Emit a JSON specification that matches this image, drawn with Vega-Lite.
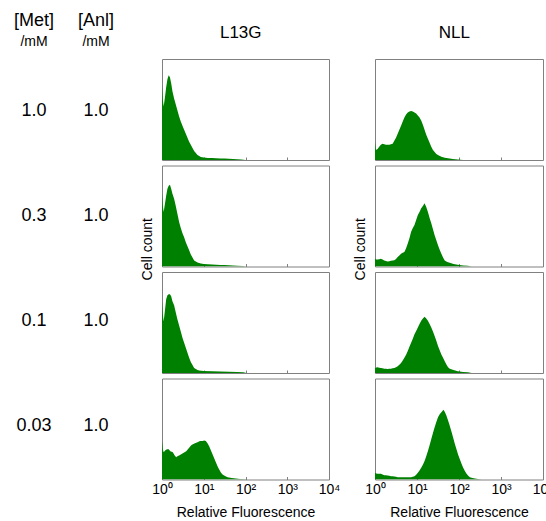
{
"$schema":"https://vega.github.io/schema/vega-lite/v6.json",
"padding":{"left":6,"top":12,"right":0,"bottom":0},
"config":{"font":"Liberation Sans","view":{"stroke":"#808080","strokeWidth":1},"title":{"fontWeight":"normal","color":"#000000","subtitleColor":"#000000","subtitleFont":"Liberation Sans"},"axis":{"labelColor":"#000000","titleColor":"#000000","titleFontWeight":"normal","grid":false}},
"datasets":{
"conds":[{"row":1,"met":"1.0","anl":"1.0"},{"row":2,"met":"0.3","anl":"1.0"},{"row":3,"met":"0.1","anl":"1.0"},{"row":4,"met":"0.03","anl":"1.0"}],
"flow":[
{"strain":"L13G","met":"1.0","logF":0,"count":74},{"strain":"L13G","met":"1.0","logF":0.02,"count":60},{"strain":"L13G","met":"1.0","logF":0.04,"count":53},{"strain":"L13G","met":"1.0","logF":0.07,"count":62},{"strain":"L13G","met":"1.0","logF":0.1,"count":72},{"strain":"L13G","met":"1.0","logF":0.13,"count":80},{"strain":"L13G","met":"1.0","logF":0.16,"count":84},{"strain":"L13G","met":"1.0","logF":0.19,"count":82},{"strain":"L13G","met":"1.0","logF":0.22,"count":76},{"strain":"L13G","met":"1.0","logF":0.25,"count":68},{"strain":"L13G","met":"1.0","logF":0.29,"count":61},{"strain":"L13G","met":"1.0","logF":0.33,"count":55},{"strain":"L13G","met":"1.0","logF":0.37,"count":49},{"strain":"L13G","met":"1.0","logF":0.41,"count":43},{"strain":"L13G","met":"1.0","logF":0.45,"count":38},{"strain":"L13G","met":"1.0","logF":0.49,"count":34},{"strain":"L13G","met":"1.0","logF":0.53,"count":30},{"strain":"L13G","met":"1.0","logF":0.57,"count":26},{"strain":"L13G","met":"1.0","logF":0.61,"count":22},{"strain":"L13G","met":"1.0","logF":0.65,"count":18},{"strain":"L13G","met":"1.0","logF":0.69,"count":15},{"strain":"L13G","met":"1.0","logF":0.73,"count":12},{"strain":"L13G","met":"1.0","logF":0.77,"count":9},{"strain":"L13G","met":"1.0","logF":0.81,"count":7},{"strain":"L13G","met":"1.0","logF":0.85,"count":5},{"strain":"L13G","met":"1.0","logF":0.89,"count":4},{"strain":"L13G","met":"1.0","logF":0.93,"count":3},{"strain":"L13G","met":"1.0","logF":1.0,"count":2.5},{"strain":"L13G","met":"1.0","logF":1.1,"count":2},{"strain":"L13G","met":"1.0","logF":1.2,"count":2},{"strain":"L13G","met":"1.0","logF":1.3,"count":1.8},{"strain":"L13G","met":"1.0","logF":1.4,"count":1.5},{"strain":"L13G","met":"1.0","logF":1.5,"count":1.5},{"strain":"L13G","met":"1.0","logF":1.6,"count":1.2},{"strain":"L13G","met":"1.0","logF":1.7,"count":1},{"strain":"L13G","met":"1.0","logF":1.8,"count":0.8},{"strain":"L13G","met":"1.0","logF":1.9,"count":0.5},{"strain":"L13G","met":"1.0","logF":2.0,"count":0},
{"strain":"L13G","met":"0.3","logF":0,"count":73},{"strain":"L13G","met":"0.3","logF":0.02,"count":60},{"strain":"L13G","met":"0.3","logF":0.04,"count":54},{"strain":"L13G","met":"0.3","logF":0.07,"count":62},{"strain":"L13G","met":"0.3","logF":0.1,"count":70},{"strain":"L13G","met":"0.3","logF":0.13,"count":77},{"strain":"L13G","met":"0.3","logF":0.16,"count":80},{"strain":"L13G","met":"0.3","logF":0.19,"count":81},{"strain":"L13G","met":"0.3","logF":0.22,"count":77},{"strain":"L13G","met":"0.3","logF":0.25,"count":72},{"strain":"L13G","met":"0.3","logF":0.29,"count":67},{"strain":"L13G","met":"0.3","logF":0.33,"count":60},{"strain":"L13G","met":"0.3","logF":0.37,"count":52},{"strain":"L13G","met":"0.3","logF":0.41,"count":44},{"strain":"L13G","met":"0.3","logF":0.45,"count":38},{"strain":"L13G","met":"0.3","logF":0.49,"count":33},{"strain":"L13G","met":"0.3","logF":0.53,"count":29},{"strain":"L13G","met":"0.3","logF":0.57,"count":24},{"strain":"L13G","met":"0.3","logF":0.61,"count":20},{"strain":"L13G","met":"0.3","logF":0.65,"count":16},{"strain":"L13G","met":"0.3","logF":0.69,"count":12},{"strain":"L13G","met":"0.3","logF":0.73,"count":9},{"strain":"L13G","met":"0.3","logF":0.77,"count":6},{"strain":"L13G","met":"0.3","logF":0.81,"count":5},{"strain":"L13G","met":"0.3","logF":0.85,"count":4},{"strain":"L13G","met":"0.3","logF":0.93,"count":3},{"strain":"L13G","met":"0.3","logF":1.0,"count":2.5},{"strain":"L13G","met":"0.3","logF":1.1,"count":2.2},{"strain":"L13G","met":"0.3","logF":1.2,"count":2},{"strain":"L13G","met":"0.3","logF":1.3,"count":1.8},{"strain":"L13G","met":"0.3","logF":1.4,"count":1.5},{"strain":"L13G","met":"0.3","logF":1.5,"count":1.4},{"strain":"L13G","met":"0.3","logF":1.6,"count":1.2},{"strain":"L13G","met":"0.3","logF":1.7,"count":1},{"strain":"L13G","met":"0.3","logF":1.8,"count":0.8},{"strain":"L13G","met":"0.3","logF":1.93,"count":0.5},{"strain":"L13G","met":"0.3","logF":2.0,"count":0},
{"strain":"L13G","met":"0.1","logF":0,"count":71},{"strain":"L13G","met":"0.1","logF":0.02,"count":58},{"strain":"L13G","met":"0.1","logF":0.04,"count":51},{"strain":"L13G","met":"0.1","logF":0.07,"count":62},{"strain":"L13G","met":"0.1","logF":0.1,"count":73},{"strain":"L13G","met":"0.1","logF":0.13,"count":77},{"strain":"L13G","met":"0.1","logF":0.16,"count":78},{"strain":"L13G","met":"0.1","logF":0.19,"count":78},{"strain":"L13G","met":"0.1","logF":0.22,"count":76},{"strain":"L13G","met":"0.1","logF":0.25,"count":71},{"strain":"L13G","met":"0.1","logF":0.29,"count":67},{"strain":"L13G","met":"0.1","logF":0.33,"count":60},{"strain":"L13G","met":"0.1","logF":0.37,"count":53},{"strain":"L13G","met":"0.1","logF":0.41,"count":47},{"strain":"L13G","met":"0.1","logF":0.45,"count":41},{"strain":"L13G","met":"0.1","logF":0.49,"count":35},{"strain":"L13G","met":"0.1","logF":0.53,"count":30},{"strain":"L13G","met":"0.1","logF":0.57,"count":25},{"strain":"L13G","met":"0.1","logF":0.61,"count":20},{"strain":"L13G","met":"0.1","logF":0.65,"count":15},{"strain":"L13G","met":"0.1","logF":0.69,"count":11},{"strain":"L13G","met":"0.1","logF":0.73,"count":8},{"strain":"L13G","met":"0.1","logF":0.77,"count":5},{"strain":"L13G","met":"0.1","logF":0.81,"count":4},{"strain":"L13G","met":"0.1","logF":0.85,"count":3},{"strain":"L13G","met":"0.1","logF":0.89,"count":2.5},{"strain":"L13G","met":"0.1","logF":1.0,"count":2},{"strain":"L13G","met":"0.1","logF":1.2,"count":1.8},{"strain":"L13G","met":"0.1","logF":1.4,"count":1.5},{"strain":"L13G","met":"0.1","logF":1.6,"count":1.3},{"strain":"L13G","met":"0.1","logF":1.8,"count":1},{"strain":"L13G","met":"0.1","logF":1.95,"count":0.7},{"strain":"L13G","met":"0.1","logF":2.02,"count":0},
{"strain":"L13G","met":"0.03","logF":0,"count":38},{"strain":"L13G","met":"0.03","logF":0.02,"count":30},{"strain":"L13G","met":"0.03","logF":0.04,"count":27},{"strain":"L13G","met":"0.03","logF":0.08,"count":29},{"strain":"L13G","met":"0.03","logF":0.12,"count":30},{"strain":"L13G","met":"0.03","logF":0.16,"count":30},{"strain":"L13G","met":"0.03","logF":0.2,"count":28},{"strain":"L13G","met":"0.03","logF":0.26,"count":27},{"strain":"L13G","met":"0.03","logF":0.3,"count":24},{"strain":"L13G","met":"0.03","logF":0.34,"count":22},{"strain":"L13G","met":"0.03","logF":0.37,"count":23},{"strain":"L13G","met":"0.03","logF":0.42,"count":24},{"strain":"L13G","met":"0.03","logF":0.46,"count":25},{"strain":"L13G","met":"0.03","logF":0.5,"count":26},{"strain":"L13G","met":"0.03","logF":0.54,"count":27},{"strain":"L13G","met":"0.03","logF":0.58,"count":28},{"strain":"L13G","met":"0.03","logF":0.62,"count":30},{"strain":"L13G","met":"0.03","logF":0.66,"count":32},{"strain":"L13G","met":"0.03","logF":0.7,"count":34},{"strain":"L13G","met":"0.03","logF":0.74,"count":35},{"strain":"L13G","met":"0.03","logF":0.79,"count":36},{"strain":"L13G","met":"0.03","logF":0.85,"count":37},{"strain":"L13G","met":"0.03","logF":0.91,"count":38},{"strain":"L13G","met":"0.03","logF":0.97,"count":38},{"strain":"L13G","met":"0.03","logF":1.01,"count":38.5},{"strain":"L13G","met":"0.03","logF":1.05,"count":38},{"strain":"L13G","met":"0.03","logF":1.09,"count":36},{"strain":"L13G","met":"0.03","logF":1.13,"count":33},{"strain":"L13G","met":"0.03","logF":1.17,"count":29},{"strain":"L13G","met":"0.03","logF":1.21,"count":25},{"strain":"L13G","met":"0.03","logF":1.25,"count":21},{"strain":"L13G","met":"0.03","logF":1.29,"count":17},{"strain":"L13G","met":"0.03","logF":1.33,"count":13},{"strain":"L13G","met":"0.03","logF":1.37,"count":10},{"strain":"L13G","met":"0.03","logF":1.41,"count":7},{"strain":"L13G","met":"0.03","logF":1.45,"count":5},{"strain":"L13G","met":"0.03","logF":1.51,"count":3.5},{"strain":"L13G","met":"0.03","logF":1.57,"count":2.3},{"strain":"L13G","met":"0.03","logF":1.67,"count":1.5},{"strain":"L13G","met":"0.03","logF":1.77,"count":1},{"strain":"L13G","met":"0.03","logF":1.87,"count":0.6},{"strain":"L13G","met":"0.03","logF":1.97,"count":0.3},{"strain":"L13G","met":"0.03","logF":2.05,"count":0},
{"strain":"NLL","met":"1.0","logF":0,"count":18},{"strain":"NLL","met":"1.0","logF":0.02,"count":10},{"strain":"NLL","met":"1.0","logF":0.06,"count":11},{"strain":"NLL","met":"1.0","logF":0.1,"count":13},{"strain":"NLL","met":"1.0","logF":0.14,"count":15},{"strain":"NLL","met":"1.0","logF":0.18,"count":16},{"strain":"NLL","met":"1.0","logF":0.22,"count":15.5},{"strain":"NLL","met":"1.0","logF":0.26,"count":15},{"strain":"NLL","met":"1.0","logF":0.3,"count":15},{"strain":"NLL","met":"1.0","logF":0.34,"count":15},{"strain":"NLL","met":"1.0","logF":0.38,"count":15.5},{"strain":"NLL","met":"1.0","logF":0.42,"count":16},{"strain":"NLL","met":"1.0","logF":0.46,"count":19},{"strain":"NLL","met":"1.0","logF":0.5,"count":22},{"strain":"NLL","met":"1.0","logF":0.54,"count":26},{"strain":"NLL","met":"1.0","logF":0.58,"count":30},{"strain":"NLL","met":"1.0","logF":0.62,"count":34},{"strain":"NLL","met":"1.0","logF":0.66,"count":38},{"strain":"NLL","met":"1.0","logF":0.7,"count":42},{"strain":"NLL","met":"1.0","logF":0.74,"count":45},{"strain":"NLL","met":"1.0","logF":0.78,"count":47},{"strain":"NLL","met":"1.0","logF":0.82,"count":48},{"strain":"NLL","met":"1.0","logF":0.86,"count":48.5},{"strain":"NLL","met":"1.0","logF":0.9,"count":48},{"strain":"NLL","met":"1.0","logF":0.94,"count":47},{"strain":"NLL","met":"1.0","logF":0.98,"count":46},{"strain":"NLL","met":"1.0","logF":1.02,"count":44},{"strain":"NLL","met":"1.0","logF":1.06,"count":42},{"strain":"NLL","met":"1.0","logF":1.1,"count":39},{"strain":"NLL","met":"1.0","logF":1.14,"count":35},{"strain":"NLL","met":"1.0","logF":1.18,"count":30},{"strain":"NLL","met":"1.0","logF":1.22,"count":25},{"strain":"NLL","met":"1.0","logF":1.26,"count":21},{"strain":"NLL","met":"1.0","logF":1.3,"count":17},{"strain":"NLL","met":"1.0","logF":1.34,"count":13},{"strain":"NLL","met":"1.0","logF":1.38,"count":10},{"strain":"NLL","met":"1.0","logF":1.42,"count":8},{"strain":"NLL","met":"1.0","logF":1.46,"count":6},{"strain":"NLL","met":"1.0","logF":1.52,"count":4.5},{"strain":"NLL","met":"1.0","logF":1.58,"count":3.3},{"strain":"NLL","met":"1.0","logF":1.66,"count":2.3},{"strain":"NLL","met":"1.0","logF":1.74,"count":1.7},{"strain":"NLL","met":"1.0","logF":1.85,"count":1},{"strain":"NLL","met":"1.0","logF":1.97,"count":0.5},{"strain":"NLL","met":"1.0","logF":2.1,"count":0},
{"strain":"NLL","met":"0.3","logF":0,"count":7.7},{"strain":"NLL","met":"0.3","logF":0.03,"count":7},{"strain":"NLL","met":"0.3","logF":0.06,"count":7},{"strain":"NLL","met":"0.3","logF":0.1,"count":7.3},{"strain":"NLL","met":"0.3","logF":0.14,"count":7.7},{"strain":"NLL","met":"0.3","logF":0.18,"count":7},{"strain":"NLL","met":"0.3","logF":0.22,"count":6},{"strain":"NLL","met":"0.3","logF":0.26,"count":5.5},{"strain":"NLL","met":"0.3","logF":0.3,"count":5},{"strain":"NLL","met":"0.3","logF":0.34,"count":5.3},{"strain":"NLL","met":"0.3","logF":0.38,"count":5.7},{"strain":"NLL","met":"0.3","logF":0.42,"count":6},{"strain":"NLL","met":"0.3","logF":0.46,"count":6.3},{"strain":"NLL","met":"0.3","logF":0.5,"count":7.5},{"strain":"NLL","met":"0.3","logF":0.54,"count":9.3},{"strain":"NLL","met":"0.3","logF":0.58,"count":11},{"strain":"NLL","met":"0.3","logF":0.62,"count":12.7},{"strain":"NLL","met":"0.3","logF":0.66,"count":13.5},{"strain":"NLL","met":"0.3","logF":0.7,"count":14.3},{"strain":"NLL","met":"0.3","logF":0.74,"count":18},{"strain":"NLL","met":"0.3","logF":0.78,"count":22.7},{"strain":"NLL","met":"0.3","logF":0.82,"count":28},{"strain":"NLL","met":"0.3","logF":0.86,"count":34.3},{"strain":"NLL","met":"0.3","logF":0.9,"count":38},{"strain":"NLL","met":"0.3","logF":0.94,"count":41},{"strain":"NLL","met":"0.3","logF":0.98,"count":46},{"strain":"NLL","met":"0.3","logF":1.02,"count":51},{"strain":"NLL","met":"0.3","logF":1.06,"count":54},{"strain":"NLL","met":"0.3","logF":1.1,"count":57.7},{"strain":"NLL","met":"0.3","logF":1.14,"count":60},{"strain":"NLL","met":"0.3","logF":1.18,"count":62.7},{"strain":"NLL","met":"0.3","logF":1.22,"count":59},{"strain":"NLL","met":"0.3","logF":1.26,"count":54},{"strain":"NLL","met":"0.3","logF":1.3,"count":48},{"strain":"NLL","met":"0.3","logF":1.34,"count":42.7},{"strain":"NLL","met":"0.3","logF":1.38,"count":37},{"strain":"NLL","met":"0.3","logF":1.42,"count":31},{"strain":"NLL","met":"0.3","logF":1.46,"count":26},{"strain":"NLL","met":"0.3","logF":1.5,"count":21},{"strain":"NLL","met":"0.3","logF":1.54,"count":16.5},{"strain":"NLL","met":"0.3","logF":1.58,"count":12.7},{"strain":"NLL","met":"0.3","logF":1.62,"count":9},{"strain":"NLL","met":"0.3","logF":1.66,"count":6},{"strain":"NLL","met":"0.3","logF":1.72,"count":4.5},{"strain":"NLL","met":"0.3","logF":1.78,"count":3.7},{"strain":"NLL","met":"0.3","logF":1.87,"count":2.5},{"strain":"NLL","met":"0.3","logF":1.97,"count":1.7},{"strain":"NLL","met":"0.3","logF":2.1,"count":1.1},{"strain":"NLL","met":"0.3","logF":2.21,"count":0.7},{"strain":"NLL","met":"0.3","logF":2.3,"count":0},
{"strain":"NLL","met":"0.1","logF":0,"count":5},{"strain":"NLL","met":"0.1","logF":0.03,"count":5.5},{"strain":"NLL","met":"0.1","logF":0.06,"count":5.7},{"strain":"NLL","met":"0.1","logF":0.1,"count":5.3},{"strain":"NLL","met":"0.1","logF":0.14,"count":5},{"strain":"NLL","met":"0.1","logF":0.18,"count":4.7},{"strain":"NLL","met":"0.1","logF":0.22,"count":4.3},{"strain":"NLL","met":"0.1","logF":0.26,"count":4.1},{"strain":"NLL","met":"0.1","logF":0.3,"count":4},{"strain":"NLL","met":"0.1","logF":0.34,"count":4.1},{"strain":"NLL","met":"0.1","logF":0.38,"count":4.3},{"strain":"NLL","met":"0.1","logF":0.42,"count":4.6},{"strain":"NLL","met":"0.1","logF":0.46,"count":5},{"strain":"NLL","met":"0.1","logF":0.5,"count":5.8},{"strain":"NLL","met":"0.1","logF":0.54,"count":6.7},{"strain":"NLL","met":"0.1","logF":0.58,"count":8.2},{"strain":"NLL","met":"0.1","logF":0.62,"count":10},{"strain":"NLL","met":"0.1","logF":0.66,"count":12.5},{"strain":"NLL","met":"0.1","logF":0.7,"count":15},{"strain":"NLL","met":"0.1","logF":0.74,"count":18},{"strain":"NLL","met":"0.1","logF":0.78,"count":21.7},{"strain":"NLL","met":"0.1","logF":0.82,"count":26},{"strain":"NLL","met":"0.1","logF":0.86,"count":30},{"strain":"NLL","met":"0.1","logF":0.9,"count":34},{"strain":"NLL","met":"0.1","logF":0.94,"count":38.3},{"strain":"NLL","met":"0.1","logF":0.98,"count":41.5},{"strain":"NLL","met":"0.1","logF":1.02,"count":45},{"strain":"NLL","met":"0.1","logF":1.06,"count":48.5},{"strain":"NLL","met":"0.1","logF":1.1,"count":51.7},{"strain":"NLL","met":"0.1","logF":1.14,"count":54},{"strain":"NLL","met":"0.1","logF":1.18,"count":55.7},{"strain":"NLL","met":"0.1","logF":1.22,"count":54},{"strain":"NLL","met":"0.1","logF":1.26,"count":51.7},{"strain":"NLL","met":"0.1","logF":1.3,"count":48.5},{"strain":"NLL","met":"0.1","logF":1.34,"count":45},{"strain":"NLL","met":"0.1","logF":1.38,"count":41},{"strain":"NLL","met":"0.1","logF":1.42,"count":36.7},{"strain":"NLL","met":"0.1","logF":1.46,"count":32},{"strain":"NLL","met":"0.1","logF":1.5,"count":26.7},{"strain":"NLL","met":"0.1","logF":1.54,"count":22.5},{"strain":"NLL","met":"0.1","logF":1.58,"count":18.3},{"strain":"NLL","met":"0.1","logF":1.62,"count":15},{"strain":"NLL","met":"0.1","logF":1.66,"count":11.7},{"strain":"NLL","met":"0.1","logF":1.7,"count":8.5},{"strain":"NLL","met":"0.1","logF":1.74,"count":5.7},{"strain":"NLL","met":"0.1","logF":1.78,"count":4.2},{"strain":"NLL","met":"0.1","logF":1.85,"count":3.3},{"strain":"NLL","met":"0.1","logF":1.97,"count":1.7},{"strain":"NLL","met":"0.1","logF":2.1,"count":1.1},{"strain":"NLL","met":"0.1","logF":2.21,"count":0.7},{"strain":"NLL","met":"0.1","logF":2.3,"count":0},
{"strain":"NLL","met":"0.03","logF":0,"count":6.7},{"strain":"NLL","met":"0.03","logF":0.03,"count":6},{"strain":"NLL","met":"0.03","logF":0.06,"count":5.7},{"strain":"NLL","met":"0.03","logF":0.1,"count":5.6},{"strain":"NLL","met":"0.03","logF":0.14,"count":5.7},{"strain":"NLL","met":"0.03","logF":0.18,"count":5},{"strain":"NLL","met":"0.03","logF":0.22,"count":4.3},{"strain":"NLL","met":"0.03","logF":0.26,"count":4.1},{"strain":"NLL","met":"0.03","logF":0.3,"count":4},{"strain":"NLL","met":"0.03","logF":0.34,"count":3.6},{"strain":"NLL","met":"0.03","logF":0.38,"count":3.3},{"strain":"NLL","met":"0.03","logF":0.42,"count":3.1},{"strain":"NLL","met":"0.03","logF":0.46,"count":3},{"strain":"NLL","met":"0.03","logF":0.5,"count":2.7},{"strain":"NLL","met":"0.03","logF":0.54,"count":2.3},{"strain":"NLL","met":"0.03","logF":0.62,"count":2.3},{"strain":"NLL","met":"0.03","logF":0.7,"count":2.3},{"strain":"NLL","met":"0.03","logF":0.78,"count":2.3},{"strain":"NLL","met":"0.03","logF":0.86,"count":2.3},{"strain":"NLL","met":"0.03","logF":0.9,"count":2.6},{"strain":"NLL","met":"0.03","logF":0.94,"count":3.3},{"strain":"NLL","met":"0.03","logF":0.98,"count":4.8},{"strain":"NLL","met":"0.03","logF":1.02,"count":6.7},{"strain":"NLL","met":"0.03","logF":1.06,"count":9},{"strain":"NLL","met":"0.03","logF":1.1,"count":11.7},{"strain":"NLL","met":"0.03","logF":1.14,"count":14.5},{"strain":"NLL","met":"0.03","logF":1.18,"count":18.3},{"strain":"NLL","met":"0.03","logF":1.22,"count":23},{"strain":"NLL","met":"0.03","logF":1.26,"count":28.3},{"strain":"NLL","met":"0.03","logF":1.3,"count":34},{"strain":"NLL","met":"0.03","logF":1.34,"count":40},{"strain":"NLL","met":"0.03","logF":1.38,"count":46},{"strain":"NLL","met":"0.03","logF":1.42,"count":51.7},{"strain":"NLL","met":"0.03","logF":1.46,"count":57},{"strain":"NLL","met":"0.03","logF":1.5,"count":61.7},{"strain":"NLL","met":"0.03","logF":1.54,"count":64.5},{"strain":"NLL","met":"0.03","logF":1.58,"count":66.7},{"strain":"NLL","met":"0.03","logF":1.63,"count":69},{"strain":"NLL","met":"0.03","logF":1.66,"count":67},{"strain":"NLL","met":"0.03","logF":1.7,"count":63.3},{"strain":"NLL","met":"0.03","logF":1.74,"count":58.5},{"strain":"NLL","met":"0.03","logF":1.78,"count":53.3},{"strain":"NLL","met":"0.03","logF":1.82,"count":47.5},{"strain":"NLL","met":"0.03","logF":1.86,"count":41.7},{"strain":"NLL","met":"0.03","logF":1.9,"count":35.5},{"strain":"NLL","met":"0.03","logF":1.94,"count":30},{"strain":"NLL","met":"0.03","logF":1.98,"count":24.5},{"strain":"NLL","met":"0.03","logF":2.02,"count":20},{"strain":"NLL","met":"0.03","logF":2.06,"count":15.5},{"strain":"NLL","met":"0.03","logF":2.1,"count":11.7},{"strain":"NLL","met":"0.03","logF":2.14,"count":8.5},{"strain":"NLL","met":"0.03","logF":2.18,"count":5.7},{"strain":"NLL","met":"0.03","logF":2.22,"count":3.8},{"strain":"NLL","met":"0.03","logF":2.26,"count":2.3},{"strain":"NLL","met":"0.03","logF":2.32,"count":1.6},{"strain":"NLL","met":"0.03","logF":2.38,"count":1},{"strain":"NLL","met":"0.03","logF":2.45,"count":0.5},{"strain":"NLL","met":"0.03","logF":2.53,"count":0}
]},
"spacing":17,
"hconcat":[
{"spacing":6,"hconcat":[
{"width":56,"height":419,"view":{"stroke":null},"data":{"name":"conds"},"title":{"text":"[Met]","subtitle":"/mM","fontSize":18,"subtitleFontSize":14,"subtitlePadding":5,"offset":10,"anchor":"middle"},"mark":{"type":"text","fontSize":18,"color":"#000000"},"encoding":{"y":{"field":"row","type":"ordinal","axis":null},"text":{"field":"met"}}},
{"width":56,"height":419,"view":{"stroke":null},"data":{"name":"conds"},"title":{"text":"[Anl]","subtitle":"/mM","fontSize":18,"subtitleFontSize":14,"subtitlePadding":5,"offset":10,"anchor":"middle"},"mark":{"type":"text","fontSize":18,"color":"#000000"},"encoding":{"y":{"field":"row","type":"ordinal","axis":null},"text":{"field":"anl"}}}
]},
{"spacing":13,"hconcat":[
{"title":{"text":["","L13G"],"fontSize":17,"lineHeight":10,"offset":17,"anchor":"middle"},"vconcat":[
{"title":{"text":"Cell count","orient":"left","fontSize":14,"offset":-4,"dx":40,"anchor":"middle"},"spacing":3.5,"vconcat":[
{"width":167,"height":101,"data":{"name":"flow"},"transform":[{"filter":"datum.strain=='L13G' && datum.met=='1.0'"}],"mark":{"type":"area","color":"#008000","clip":true},"encoding":{"x":{"field":"logF","type":"quantitative","scale":{"domain":[0,4],"nice":false},"axis":{"values":[1,2,3],"labels":false,"domain":false,"tickSize":-3,"tickColor":"#808080","title":null}},"y":{"field":"count","type":"quantitative","scale":{"domain":[0,100]},"axis":null}}},
{"width":167,"height":101,"data":{"name":"flow"},"transform":[{"filter":"datum.strain=='L13G' && datum.met=='0.3'"}],"mark":{"type":"area","color":"#008000","clip":true},"encoding":{"x":{"field":"logF","type":"quantitative","scale":{"domain":[0,4],"nice":false},"axis":{"values":[1,2,3],"labels":false,"domain":false,"tickSize":-3,"tickColor":"#808080","title":null}},"y":{"field":"count","type":"quantitative","scale":{"domain":[0,100]},"axis":null}}},
{"width":167,"height":101,"data":{"name":"flow"},"transform":[{"filter":"datum.strain=='L13G' && datum.met=='0.1'"}],"mark":{"type":"area","color":"#008000","clip":true},"encoding":{"x":{"field":"logF","type":"quantitative","scale":{"domain":[0,4],"nice":false},"axis":{"values":[1,2,3],"labels":false,"domain":false,"tickSize":-3,"tickColor":"#808080","title":null}},"y":{"field":"count","type":"quantitative","scale":{"domain":[0,100]},"axis":null}}},
{"width":167,"height":101,"data":{"name":"flow"},"transform":[{"filter":"datum.strain=='L13G' && datum.met=='0.03'"}],"mark":{"type":"area","color":"#008000","clip":true},"encoding":{"x":{"field":"logF","type":"quantitative","scale":{"domain":[0,4],"nice":false},"axis":{"values":[0,1,2,3,4],"labelExpr":"'10' + ['⁰','¹','²','³','⁴'][datum.value]","labelFlush":false,"labelOverlap":false,"labelFontSize":14,"labelPadding":6,"domain":false,"tickSize":-3,"tickColor":"#808080","title":"Relative Fluorescence","titleFontSize":14,"titlePadding":9}},"y":{"field":"count","type":"quantitative","scale":{"domain":[0,100]},"axis":null}}}
]}]},
{"title":{"text":["","NLL"],"fontSize":17,"lineHeight":10,"offset":17,"anchor":"middle"},"vconcat":[
{"title":{"text":"Cell count","orient":"left","fontSize":14,"offset":-4,"dx":40,"anchor":"middle"},"spacing":3.5,"vconcat":[
{"width":168,"height":101,"data":{"name":"flow"},"transform":[{"filter":"datum.strain=='NLL' && datum.met=='1.0'"}],"mark":{"type":"area","color":"#008000","clip":true},"encoding":{"x":{"field":"logF","type":"quantitative","scale":{"domain":[0,4],"nice":false},"axis":{"values":[1,2,3],"labels":false,"domain":false,"tickSize":-3,"tickColor":"#808080","title":null}},"y":{"field":"count","type":"quantitative","scale":{"domain":[0,100]},"axis":null}}},
{"width":168,"height":101,"data":{"name":"flow"},"transform":[{"filter":"datum.strain=='NLL' && datum.met=='0.3'"}],"mark":{"type":"area","color":"#008000","clip":true},"encoding":{"x":{"field":"logF","type":"quantitative","scale":{"domain":[0,4],"nice":false},"axis":{"values":[1,2,3],"labels":false,"domain":false,"tickSize":-3,"tickColor":"#808080","title":null}},"y":{"field":"count","type":"quantitative","scale":{"domain":[0,100]},"axis":null}}},
{"width":168,"height":101,"data":{"name":"flow"},"transform":[{"filter":"datum.strain=='NLL' && datum.met=='0.1'"}],"mark":{"type":"area","color":"#008000","clip":true},"encoding":{"x":{"field":"logF","type":"quantitative","scale":{"domain":[0,4],"nice":false},"axis":{"values":[1,2,3],"labels":false,"domain":false,"tickSize":-3,"tickColor":"#808080","title":null}},"y":{"field":"count","type":"quantitative","scale":{"domain":[0,100]},"axis":null}}},
{"width":168,"height":101,"data":{"name":"flow"},"transform":[{"filter":"datum.strain=='NLL' && datum.met=='0.03'"}],"mark":{"type":"area","color":"#008000","clip":true},"encoding":{"x":{"field":"logF","type":"quantitative","scale":{"domain":[0,4],"nice":false},"axis":{"values":[0,1,2,3,4],"labelExpr":"'10' + ['⁰','¹','²','³','⁴'][datum.value]","labelFlush":false,"labelOverlap":false,"labelFontSize":14,"labelPadding":6,"domain":false,"tickSize":-3,"tickColor":"#808080","title":"Relative Fluorescence","titleFontSize":14,"titlePadding":9}},"y":{"field":"count","type":"quantitative","scale":{"domain":[0,100]},"axis":null}}}
]}]}
]}
]
}
